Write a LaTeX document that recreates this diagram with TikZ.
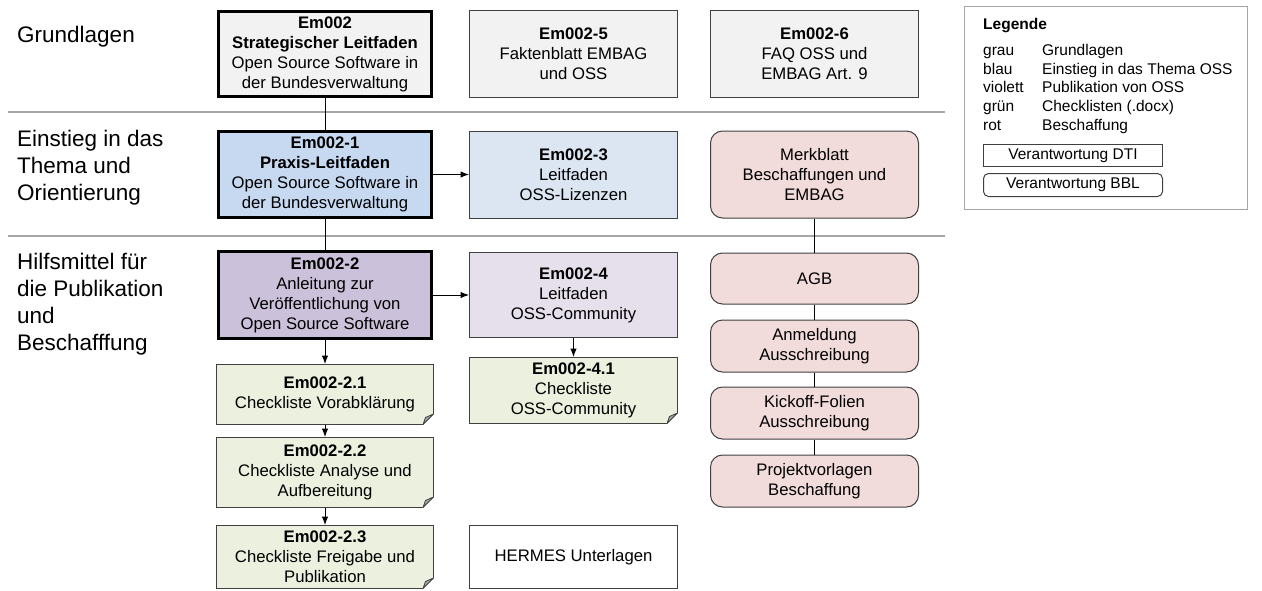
\documentclass[tikz,border=0pt]{standalone}
\usepackage{fontspec}
\setmainfont{Liberation Sans}
\usetikzlibrary{positioning,arrows.meta}

\definecolor{grau}{HTML}{F2F2F2}
\definecolor{blaustark}{HTML}{C6D9F1}
\definecolor{blauhell}{HTML}{DCE6F2}
\definecolor{violettstark}{HTML}{CCC1DA}
\definecolor{violetthell}{HTML}{E6E0EC}
\definecolor{gruen}{HTML}{EBF1DE}
\definecolor{rosa}{HTML}{F2DCDB}
\definecolor{rahmen}{HTML}{404040}
\definecolor{trenner}{HTML}{A6A6A6}

\begin{document}
\begin{tikzpicture}[
        x=1pt, y=-1pt,
        boxfont/.style={font=\fontsize{16.7}{20}\selectfont},
        legfont/.style={font=\fontsize{15.5}{18.7}\selectfont},
        leitfaden/.style={rectangle, draw=black, line width=3pt, boxfont, align=center, inner sep=0pt, minimum width=213pt},
        dokument/.style={rectangle, draw=rahmen, line width=1pt, boxfont, align=center, inner sep=0pt, minimum width=208pt},
        checkliste/.style={dokument, fill=gruen},
        beschaffung/.style={dokument, fill=rosa, rounded corners=12pt},
        seite/.style={anchor=north west, align=left, inner sep=0pt, font=\fontsize{22.5}{27}\selectfont},
        trennlinie/.style={draw=trenner, line width=2pt},
        linie/.style={line width=1pt},
        pfeil/.style={line width=1pt, -{Latex[length=8.5pt, width=6.5pt]}},
        falz/.style={fill=trenner, draw=rahmen, line width=0.8pt, line join=round},
    ]
    \useasboundingbox (0,0) rectangle (1262,590);

    % Bereiche
    \draw[trennlinie] (8,112) -- (945,112);
    \draw[trennlinie] (8,236) -- (945,236);
    \node[seite] (grundlagen) at (17,26) {Grundlagen};
    \node[seite] (einstieg) at (17,130) {Einstieg in das\\Thema und\\Orientierung};
    \node[seite] (hilfsmittel) at (17,253) {Hilfsmittel für\\die Publikation\\und\\Beschafffung};

    % Leitfaeden und Checklisten
    \node[leitfaden, fill=grau, minimum height=85pt] (em0) at (325,54) {\textbf{Em002}\\\textbf{Strategischer Leitfaden}\\Open Source Software in\\der Bundesverwaltung};
    \node[leitfaden, fill=blaustark, minimum height=86pt] (em1) [below=32pt of em0] {\textbf{Em002-1}\\\textbf{Praxis-Leitfaden}\\Open Source Software in\\der Bundesverwaltung};
    \node[leitfaden, fill=violettstark, minimum height=87pt] (em2) [below=31pt of em1] {\textbf{Em002-2}\\Anleitung zur\\Veröffentlichung von\\Open Source Software};
    \node[checkliste, minimum width=217pt, minimum height=60pt] (em21) [below=24pt of em2] {\textbf{Em002-2.1}\\Checkliste Vorabklärung};
    \node[checkliste, minimum width=217pt, minimum height=70pt] (em22) [below=12pt of em21] {\textbf{Em002-2.2}\\Checkliste Analyse und\\Aufbereitung};
    \node[checkliste, minimum width=217pt, minimum height=63pt] (em23) [below=17pt of em22] {\textbf{Em002-2.3}\\Checkliste Freigabe und\\Publikation};

    \node[dokument, fill=grau, minimum height=87pt] (em5) [right=36pt of em0] {\textbf{Em002-5}\\Faktenblatt EMBAG\\und OSS};
    \node[dokument, fill=blauhell, minimum height=87pt] (em3) [right=36pt of em1] {\textbf{Em002-3}\\Leitfaden\\OSS-Lizenzen};
    \node[dokument, fill=violetthell, minimum height=85pt] (em4) [right=36pt of em2] {\textbf{Em002-4}\\Leitfaden\\OSS-Community};
    \node[checkliste, minimum height=66pt] (em41) [below=19pt of em4] {\textbf{Em002-4.1}\\Checkliste\\OSS-Community};
    \node[dokument, fill=white, minimum height=63pt] (hermes) [right=35pt of em23] {HERMES Unterlagen};

    % Beschaffung
    \node[dokument, fill=grau, minimum height=87pt] (em6) [right=32pt of em5] {\textbf{Em002-6}\\FAQ OSS und\\EMBAG Art. 9};
    \node[beschaffung, minimum height=87pt] (merkblatt) [right=32pt of em3] {Merkblatt\\Beschaffungen und\\EMBAG};
    \node[beschaffung, minimum height=51pt] (agb) [below=34pt of merkblatt] {AGB};
    \node[beschaffung, minimum height=52pt] (anmeldung) [below=15pt of agb] {Anmeldung\\Ausschreibung};
    \node[beschaffung, minimum height=52pt] (kickoff) [below=14pt of anmeldung] {Kickoff-Folien\\Ausschreibung};
    \node[beschaffung, minimum height=52pt] (vorlagen) [below=15pt of kickoff] {Projektvorlagen\\Beschaffung};

    % Eselsohren
    \foreach \n in {em21,em22,em23,em41} {
        \fill[white] (\n.south east) ++(0.5,-12) -- ++(0,12.5) -- ++(-12.5,0) -- cycle;
        \filldraw[falz] (\n.south east) ++(-0.5,-11) -- ++(-10.5,10.5) -- ++(2.5,-7) -- cycle;
    }

    % Verbindungen
    \draw[linie] (em0) -- (em1);
    \draw[linie] (em1) -- (em2);
    \draw[pfeil] (em1) -- (em3);
    \draw[pfeil] (em2) -- (em4);
    \draw[pfeil] (em2) -- (em21);
    \draw[pfeil] (em21) -- (em22);
    \draw[pfeil] (em22) -- (em23);
    \draw[pfeil] (em4) -- (em41);
    \foreach \a/\b in {merkblatt/agb, agb/anmeldung, anmeldung/kickoff, kickoff/vorlagen}
        \draw[linie] (\a) -- (\b);

    % Legende
    \node[draw=trenner, line width=1pt, minimum width=283pt, minimum height=203pt, inner sep=0pt] (legende) at (1106,108) {};
    \node[legfont, anchor=base west, inner sep=0pt] (legtitel) at (983,29) {\textbf{Legende}};
    \node[legfont, anchor=base west, inner sep=0pt] (legzeilen) at (983,55.5) {\begin{tabular}[t]{@{}p{59pt}@{}l@{}}
        grau & Grundlagen\\
        blau & Einstieg in das Thema OSS\\
        violett & Publikation von OSS\\
        grün & Checklisten (.docx)\\
        rot & Beschaffung
    \end{tabular}};
    \node[legfont, draw=rahmen, line width=1pt, inner sep=0pt, minimum width=179pt, minimum height=22pt] (dti) at (1073,155.5) {Verantwortung DTI};
    \node[legfont, draw=rahmen, line width=1pt, rounded corners=5pt, inner sep=0pt, minimum width=179pt, minimum height=23pt] (bbl) [below=6pt of dti] {Verantwortung BBL};
\end{tikzpicture}
\end{document}
